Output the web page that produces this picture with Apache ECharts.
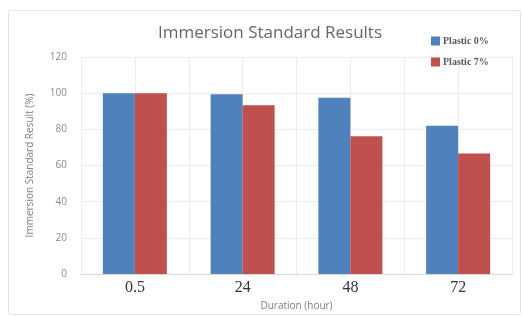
<!DOCTYPE html>
<html>
<head>
<meta charset="utf-8">
<script src="https://cdn.jsdelivr.net/npm/echarts@6/dist/echarts.min.js"></script>
<style>
  html, body { margin: 0; padding: 0; background: #fff; }
  #chart { width: 523px; height: 316px; }
</style>
</head>
<body>
<div id="chart"></div>
<script>
const durations = ['0.5', '24', '48', '72']
const plastic0 = [100, 99.4, 97.5, 82]
const plastic7 = [100, 93.3, 76.2, 66.7]
// half-category slots, only used to draw the extra vertical grid lines
const halfSlots = ['a', 'b', 'c', 'd', 'e', 'f', 'g', 'h']

let myChart = echarts.init(document.getElementById('chart'))

myChart.setOption({
  animation: false,
  graphic: [{
    type: 'rect',
    shape: { x: 8.5, y: 10.5, width: 512, height: 304, r: 2 },
    style: { fill: 'none', stroke: '#e4e4e4', lineWidth: 1 },
    silent: true
  }],
  title: {
    text: 'Immersion Standard Results',
    left: 265,
    top: 20,
    textAlign: 'center',
    textStyle: {
      fontFamily: 'Open Sans',
      fontSize: 17,
      fontWeight: 'normal',
      color: '#666666'
    }
  },
  legend: {
    orient: 'vertical',
    left: 426,
    top: 31,
    itemGap: 11,
    itemWidth: 9,
    itemHeight: 9,
    icon: 'rect',
    textStyle: {
      fontFamily: 'Liberation Serif',
      fontSize: 10,
      fontWeight: 'bold',
      color: '#595959',
      padding: [0, 0, 0, -2]
    }
  },
  grid: {
    left: 81,
    right: 11,
    top: 57,
    bottom: 42,
    outerBoundsMode: 'none'
  },
  xAxis: [{
    type: 'category',
    data: durations,
    name: 'Duration (hour)',
    nameLocation: 'middle',
    nameGap: 27,
    nameTextStyle: {
      fontFamily: 'Open Sans',
      fontSize: 10,
      color: '#7f7f7f'
    },
    axisLine: { lineStyle: { color: '#d9d9d9' } },
    axisTick: { show: false },
    axisLabel: {
      fontFamily: 'Liberation Serif',
      fontSize: 16,
      color: '#333333',
      margin: 6
    },
    splitLine: { show: true, lineStyle: { color: '#ececec' } }
  }, {
    type: 'category',
    data: halfSlots,
    position: 'bottom',
    axisLine: { show: false },
    axisTick: { show: false },
    axisLabel: { show: false },
    splitLine: { show: true, lineStyle: { color: '#ececec' } }
  }],
  yAxis: {
    type: 'value',
    min: 0,
    max: 120,
    interval: 20,
    name: 'Immersion Standard Result (%)',
    nameLocation: 'middle',
    nameGap: 46,
    nameTextStyle: {
      fontFamily: 'Open Sans',
      fontSize: 10,
      color: '#7f7f7f'
    },
    axisLabel: {
      fontFamily: 'Open Sans',
      fontSize: 10,
      color: '#8c8c8c',
      margin: 14
    },
    splitLine: { lineStyle: { color: '#ececec' } }
  },
  series: [{
    name: 'Plastic 0%',
    type: 'bar',
    data: plastic0,
    barWidth: 32,
    barGap: '0%',
    itemStyle: { color: '#4f81bd' }
  }, {
    name: 'Plastic 7%',
    type: 'bar',
    data: plastic7,
    barWidth: 32,
    barGap: '0%',
    itemStyle: { color: '#c0504d' }
  }]
})
</script>
</body>
</html>
